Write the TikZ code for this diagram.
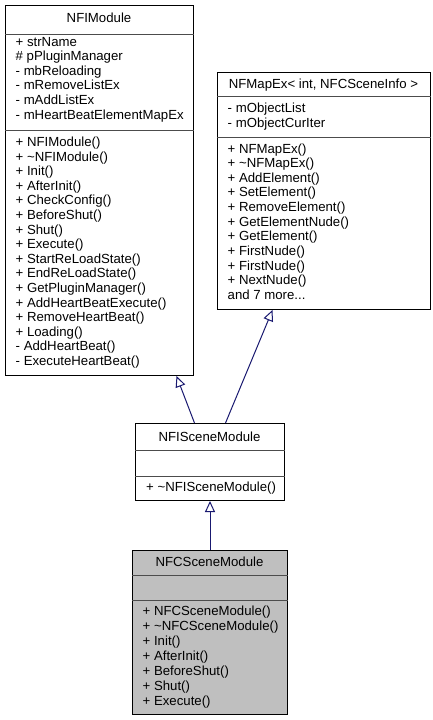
\documentclass[tikz,border=0pt]{standalone}
\usepackage{fontspec}
\setmainfont{Liberation Sans}
\usepackage{tikz}
\usetikzlibrary{arrows.meta,calc}
\definecolor{edgeblue}{HTML}{191970}
\definecolor{boxgray}{HTML}{BFBFBF}
\newcommand{\umlfont}{\fontsize{13.2}{15}\selectfont}
\newcommand{\threedots}{...}
\tikzset{
  classbox/.style={draw=black, line width=1pt, fill=white, anchor=north west, inner sep=0pt},
  sepline/.style={draw=black!70, line width=1pt},
  title/.style={anchor=base, inner sep=0pt, font=\umlfont},
  member/.style={anchor=base west, inner sep=0pt, font=\umlfont},
  inherit/.style={draw=edgeblue, line width=1pt, -{Triangle[open, length=11pt, width=10pt]}},
}

\begin{document}
\begin{tikzpicture}[x=1pt, y=-1pt]
    \useasboundingbox (0,0) rectangle (432,720);

    % class boxes
    \node[classbox, minimum width=188pt, minimum height=370pt] (IM) at (5,5) {};
    \node[classbox, minimum width=213pt, minimum height=237pt] (MX) at (217,72) {};
    \node[classbox, minimum width=149pt, minimum height=77pt] (ISM) at (135,423) {};
    \node[classbox, fill=boxgray, minimum width=155pt, minimum height=164pt] (CSM) at (132,550) {};

    % compartments
    \draw[sepline] ($(IM.north west)+(0,29)$) -- ($(IM.north east)+(0,29)$);
    \draw[sepline] ($(IM.north west)+(0,125)$) -- ($(IM.north east)+(0,125)$);
    \draw[sepline] ($(MX.north west)+(0,24)$) -- ($(MX.north east)+(0,24)$);
    \draw[sepline] ($(MX.north west)+(0,65)$) -- ($(MX.north east)+(0,65)$);
    \draw[sepline] ($(ISM.north west)+(0,27)$) -- ($(ISM.north east)+(0,27)$);
    \draw[sepline] ($(ISM.north west)+(0,53)$) -- ($(ISM.north east)+(0,53)$);
    \draw[sepline] ($(CSM.north west)+(0,25)$) -- ($(CSM.north east)+(0,25)$);
    \draw[sepline] ($(CSM.north west)+(0,50)$) -- ($(CSM.north east)+(0,50)$);

    % NFIModule
    \node[title] (IMt) at (99,22) {NFIModule};
    \foreach \m [count=\i from 0] in {+ strName, \# pPluginManager, - mbReloading,
        - mRemoveListEx, - mAddListEx, - mHeartBeatElementMapEx}
      \node[member] (IMa\i) at (15.5, 46+\i*14.6) {\m};
    \foreach \m [count=\i from 0] in {+ NFIModule(), + \textasciitilde NFIModule(), + Init(),
        + AfterInit(), + CheckConfig(), + BeforeShut(), + Shut(), + Execute(),
        + StartReLoadState(), + EndReLoadState(), + GetPluginManager(),
        + AddHeartBeatExecute(), + RemoveHeartBeat(), + Loading(),
        - AddHeartBeat(), - ExecuteHeartBeat()}
      \node[member] (IMm\i) at (15.5, 146.5+\i*14.6) {\m};

    % NFMapEx
    \node[title] (MXt) at (323.5,88.5) {NFMapEx< int, NFCSceneInfo >};
    \foreach \m [count=\i from 0] in {- mObjectList, - mObjectCurIter}
      \node[member] (MXa\i) at (227.5, 112.5+\i*14.6) {\m};
    \foreach \m [count=\i from 0] in {+ NFMapEx(), + \textasciitilde NFMapEx(), + AddElement(),
        + SetElement(), + RemoveElement(), + GetElementNude(), + GetElement(),
        + FirstNude(), + FirstNude(), + NextNude(), and 7 more\threedots}
      \node[member] (MXm\i) at (227.5, 153+\i*14.65) {\m};

    % NFISceneModule
    \node[title] (ISMt) at (209.5,441) {NFISceneModule};
    \node[member] (ISMm0) at (146, 491.5) {+ \textasciitilde NFISceneModule()};

    % NFCSceneModule
    \node[title] (CSMt) at (209.5,566) {NFCSceneModule};
    \foreach \m [count=\i from 0] in {+ NFCSceneModule(), + \textasciitilde NFCSceneModule(),
        + Init(), + AfterInit(), + BeforeShut(), + Shut(), + Execute()}
      \node[member] (CSMm\i) at (142.5, 615.5+\i*15) {\m};

    % inheritance
    \draw[inherit] ([xshift=-15.5pt]ISM.north) -- ([xshift=77pt]IM.south);
    \draw[inherit] ([xshift=15.5pt]ISM.north) -- ([xshift=-51.5pt]MX.south);
    \draw[inherit] (CSM.north) -- (ISM.south);
  \end{tikzpicture}
\end{document}
